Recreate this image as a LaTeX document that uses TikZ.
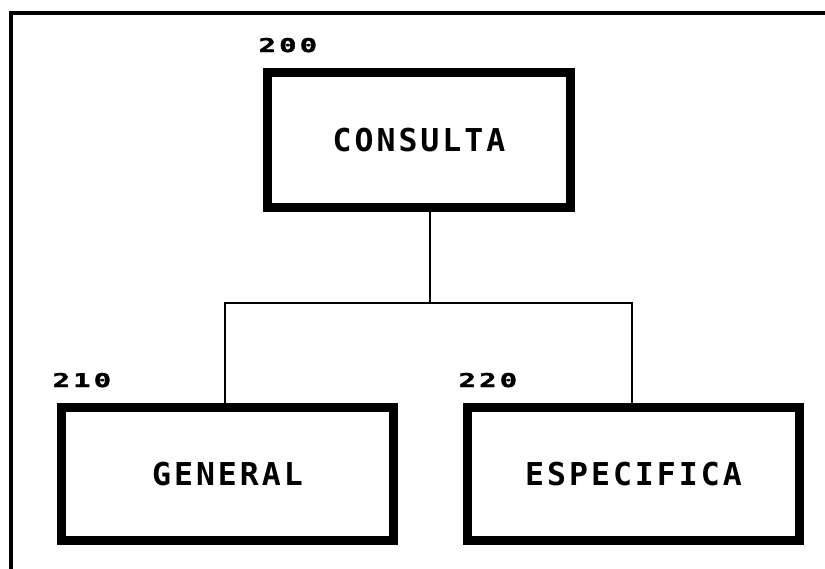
\documentclass[tikz,border=0pt]{standalone}
\usepackage{fontspec}
\newfontfamily\boxfont[LetterSpace=9.5]{DejaVu Sans Mono Bold}
\newfontfamily\numfont[LetterSpace=12,FakeBold=2]{DejaVu Sans Mono Bold}
\begin{document}
\begin{tikzpicture}[x=1pt,y=-1pt,
  module/.style={draw=black, line width=9pt, minimum height=133pt,
    inner sep=0pt, font=\boxfont\fontsize{31.5}{34}\selectfont},
  modnum/.style={anchor=south west, inner sep=0pt,
    font=\numfont\fontsize{19}{21}\selectfont},
  link/.style={draw=black, line width=2.2pt},
  frame/.style={draw=black, line width=3.2pt}]
  \useasboundingbox (0,0) rectangle (825,568);

  % outer frame (left and top edges)
  \coordinate (fbl) at (11,570);
  \coordinate (ftl) at (11,13);
  \coordinate (ftr) at (827,13);
  \draw[frame] (fbl) -- (ftl) -- (ftr);

  % module boxes
  \node[module, minimum width=303pt, minimum height=135pt] (consulta) at (419,140) {CONSULTA};
  \node[module, minimum width=332pt] (general) at (227.5,474) {GENERAL};
  \node[module, minimum width=332pt] (especifica) at (633.5,474) {ESPECIFICA};

  % module numbers
  \node[modnum] (n200) at ([xshift=-4.5pt,yshift=15.5pt]consulta.north west) {\scalebox{1.5}[1]{200}};
  \node[modnum] (n210) at ([xshift=-4.5pt,yshift=15.5pt]general.north west) {\scalebox{1.5}[1]{210}};
  \node[modnum] (n220) at ([xshift=-4.5pt,yshift=15.5pt]especifica.north west) {\scalebox{1.5}[1]{220}};

  % tree connectors (their ends fall on the black box borders)
  \coordinate (join) at (430,303);
  \draw[link] ([xshift=11pt]consulta.south) -- (join);
  \draw[link] ([xshift=-2.5pt]general.north) |- (join);
  \draw[link] ([xshift=-1.5pt]especifica.north) |- (join);
\end{tikzpicture}
\end{document}
